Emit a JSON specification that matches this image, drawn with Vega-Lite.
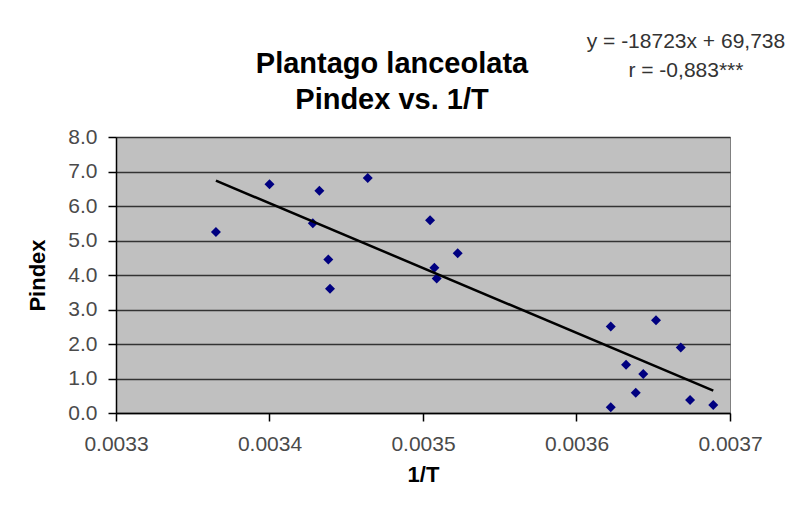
{
  "$schema": "https://vega.github.io/schema/vega-lite/v6.json",
  "autosize": "none",
  "width": 614,
  "height": 276,
  "padding": {"left": 116, "top": 137, "right": 69, "bottom": 116},
  "background": "white",
  "config": {
    "font": "Liberation Sans",
    "view": {"fill": "#c0c0c0", "stroke": "#808080", "strokeWidth": 1}
  },
  "data": {
    "values": [
      {"invT": 0.0033651, "pindex": 5.25},
      {"invT": 0.0034000, "pindex": 6.63},
      {"invT": 0.0034325, "pindex": 6.44},
      {"invT": 0.0034640, "pindex": 6.81},
      {"invT": 0.0034282, "pindex": 5.50},
      {"invT": 0.0034383, "pindex": 4.45},
      {"invT": 0.0034394, "pindex": 3.60},
      {"invT": 0.0035046, "pindex": 5.59},
      {"invT": 0.0035226, "pindex": 4.63},
      {"invT": 0.0035074, "pindex": 4.21},
      {"invT": 0.0035089, "pindex": 3.90},
      {"invT": 0.0036223, "pindex": 2.51},
      {"invT": 0.0036518, "pindex": 2.69},
      {"invT": 0.0036679, "pindex": 1.90},
      {"invT": 0.0036323, "pindex": 1.40},
      {"invT": 0.0036435, "pindex": 1.13},
      {"invT": 0.0036386, "pindex": 0.59},
      {"invT": 0.0036223, "pindex": 0.17},
      {"invT": 0.0036740, "pindex": 0.38},
      {"invT": 0.0036891, "pindex": 0.23}
    ]
  },
  "encoding": {
    "x": {
      "field": "invT",
      "type": "quantitative",
      "title": "1/T",
      "scale": {"domain": [0.0033, 0.0037], "nice": false, "zero": false},
      "axis": {
        "values": [0.0033, 0.0034, 0.0035, 0.0036, 0.0037],
        "format": ".4f",
        "grid": false,
        "labelFlush": false,
        "labelOverlap": false,
        "domainColor": "#000000",
        "domainWidth": 1.5,
        "tickColor": "#000000",
        "tickWidth": 1.5,
        "tickSize": 8,
        "labelFontSize": 21,
        "labelColor": "#4a4a4a",
        "labelPadding": 12,
        "titleFontSize": 22,
        "titleFontWeight": "bold",
        "titleColor": "#000000",
        "titlePadding": 10
      }
    },
    "y": {
      "field": "pindex",
      "type": "quantitative",
      "title": "Pindex",
      "scale": {"domain": [0, 8], "nice": false},
      "axis": {
        "values": [0, 1, 2, 3, 4, 5, 6, 7, 8],
        "format": ".1f",
        "grid": true,
        "labelFlush": false,
        "labelOverlap": false,
        "gridColor": "#333333",
        "gridWidth": 1.6,
        "domainColor": "#000000",
        "domainWidth": 1.5,
        "tickColor": "#000000",
        "tickWidth": 1.5,
        "tickSize": 8,
        "labelFontSize": 21,
        "labelColor": "#4a4a4a",
        "labelPadding": 11,
        "titleFontSize": 22,
        "titleFontWeight": "bold",
        "titleColor": "#000000",
        "titlePadding": 18
      }
    }
  },
  "layer": [
    {
      "mark": {"type": "point", "shape": "diamond", "filled": true, "size": 100, "color": "#000080", "opacity": 1}
    },
    {
      "transform": [{"regression": "pindex", "on": "invT"}],
      "mark": {"type": "line", "color": "#000000", "strokeWidth": 2.5}
    },
    {
      "transform": [{"aggregate": [{"op": "min", "field": "invT", "as": "invT"}, {"op": "min", "field": "pindex", "as": "pindex"}]}],
      "mark": {
        "type": "text",
        "align": "center",
        "baseline": "alphabetic",
        "fontSize": 29,
        "fontWeight": "bold",
        "lineHeight": 36,
        "color": "#000000",
        "text": ["Plantago lanceolata", "Pindex vs. 1/T"]
      },
      "encoding": {
        "x": {"datum": 0.0034798},
        "y": {"datum": 9.85}
      }
    },
    {
      "transform": [{"aggregate": [{"op": "min", "field": "invT", "as": "invT"}, {"op": "min", "field": "pindex", "as": "pindex"}]}],
      "mark": {
        "type": "text",
        "align": "center",
        "baseline": "alphabetic",
        "fontSize": 21,
        "fontWeight": "normal",
        "lineHeight": 29,
        "color": "#333333",
        "text": ["y = -18723x + 69,738", "r = -0,883***"]
      },
      "encoding": {
        "x": {"datum": 0.0036713},
        "y": {"datum": 10.58}
      }
    }
  ]
}
